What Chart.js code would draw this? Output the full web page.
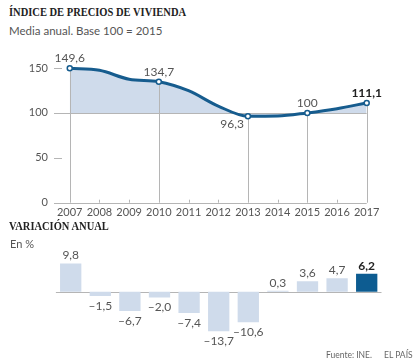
<!DOCTYPE html>
<html>
<head>
<meta charset="utf-8">
<script src="https://cdn.jsdelivr.net/npm/chart.js@4"></script>
<style>
  body { margin: 0; background: #fff; }
  #wrap { position: relative; width: 414px; height: 364px; overflow: hidden; font-family: Lato, sans-serif; }
  canvas { position: absolute; left: 0; }
  .title { position: absolute; font-family: "Liberation Serif", serif; font-weight: bold; font-size: 12.8px; color: #222; transform-origin: 0 0; transform: scaleX(0.82); white-space: nowrap; line-height: 1; }
  .sub { position: absolute; font-size: 11.5px; color: #555; white-space: nowrap; line-height: 1; }
  .foot { position: absolute; font-size: 8.5px; color: #666; white-space: nowrap; line-height: 1; }
</style>
</head>
<body>
<div id="wrap">
  <div class="title" style="left:9px; top:6px;">ÍNDICE DE PRECIOS DE VIVIENDA</div>
  <div class="sub" style="left:9px; top:25px;">Media anual. Base 100 = 2015</div>
  <canvas id="index-chart" width="414" height="220" style="top:0"></canvas>
  <div class="title" style="left:9px; top:220px;">VARIACIÓN ANUAL</div>
  <div class="sub" style="left:10px; top:238px; font-size:11px;">En %</div>
  <canvas id="change-chart" width="414" height="124" style="top:240px"></canvas>
  <div class="foot" style="left:326px; top:351px;">Fuente: INE.</div>
  <div class="foot" style="left:384px; top:351px;">EL PAÍS</div>
</div>
<script>
const years = [2007, 2008, 2009, 2010, 2011, 2012, 2013, 2014, 2015, 2016, 2017];
const indexValues = [149.6, 147.4, 137.5, 134.7, 124.7, 107.6, 96.3, 96.5, 100, 104.7, 111.1];
const annualChange = [9.8, -1.5, -6.7, -2.0, -7.4, -13.7, -10.6, 0.3, 3.6, 4.7, 6.2];
const labeledYears = [2007, 2010, 2013, 2015, 2017];
const yTicks = [0, 50, 100, 150];

const DARK = "#165c8e";
const LIGHT = "#cfdbeb";
const GREY_TXT = "#555";
const fmt = (v, digits) => v.toLocaleString("es-ES", { minimumFractionDigits: digits, maximumFractionDigits: 1 }).replace("-", "–");

// Lines, marks and labels for the index chart
const indexDecor = {
  id: "indexDecor",
  beforeDatasetDraw(chart) {
    const { ctx, chartArea, scales: { x, y } } = chart;
    ctx.save();
    ctx.strokeStyle = "#b5b5b5";
    ctx.lineWidth = 1;
    // horizontal: baseline and 100
    [0, 100].forEach(v => {
      const py = Math.round(y.getPixelForValue(v)) + 0.5;
      ctx.beginPath();
      ctx.moveTo(chartArea.left, py);
      ctx.lineTo(x.getPixelForValue(2017), py);
      ctx.stroke();
    });
    // short marks for 50 and 150
    [50, 150].forEach(v => {
      const py = Math.round(y.getPixelForValue(v)) + 0.5;
      ctx.beginPath();
      ctx.moveTo(chartArea.left, py);
      ctx.lineTo(chartArea.left + 8, py);
      ctx.stroke();
    });
    // verticals from labeled points down to 0
    labeledYears.forEach(yr => {
      const px = Math.round(x.getPixelForValue(yr)) + 0.5;
      const v = indexValues[years.indexOf(yr)];
      ctx.beginPath();
      ctx.moveTo(px, y.getPixelForValue(v));
      ctx.lineTo(px, y.getPixelForValue(0));
      ctx.stroke();
    });
    // small tick marks for other years
    years.filter(yr => !labeledYears.includes(yr)).forEach(yr => {
      const px = Math.round(x.getPixelForValue(yr)) + 0.5;
      const py = y.getPixelForValue(0);
      ctx.beginPath();
      ctx.moveTo(px, py);
      ctx.lineTo(px, py - 3);
      ctx.stroke();
    });
    ctx.restore();
  },
  afterDatasetsDraw(chart) {
    const { ctx, scales: { x, y } } = chart;
    ctx.save();
    ctx.textBaseline = "alphabetic";
    labeledYears.forEach(yr => {
      const v = indexValues[years.indexOf(yr)];
      const px = x.getPixelForValue(yr);
      const py = y.getPixelForValue(v);
      const last = yr === 2017;
      ctx.font = (last ? "bold " : "") + "12px Lato";
      ctx.fillStyle = last ? "#222" : GREY_TXT;
      if (yr === 2013) {
        ctx.textAlign = "right";
        ctx.fillText(fmt(v, 0), px - 4, py + 12);
      } else {
        ctx.textAlign = "center";
        ctx.fillText(fmt(v, 0), px, py - 6);
      }
    });
    ctx.restore();
  }
};

new Chart(document.getElementById("index-chart"), {
  type: "line",
  data: {
    datasets: [{
      data: years.map((yr, i) => ({ x: yr, y: indexValues[i] })),
      borderColor: DARK,
      borderWidth: 3,
      backgroundColor: LIGHT,
      fill: { value: 100 },
      cubicInterpolationMode: "monotone",
      clip: false,
      pointRadius: years.map(yr => labeledYears.includes(yr) ? 2.5 : 0),
      pointBackgroundColor: "#fff",
      pointBorderColor: DARK,
      pointBorderWidth: 1.5
    }]
  },
  options: {
    responsive: false,
    animation: false,
    layout: { padding: { top: 59, right: 47.3, bottom: 0, left: 0 } },
    plugins: { legend: { display: false }, tooltip: { enabled: false } },
    scales: {
      x: {
        type: "linear",
        min: 2006.47,
        max: 2017,
        grid: { display: false, drawTicks: false },
        border: { display: false },
        afterFit: (s) => { s.height = 17.3; },
        afterBuildTicks: (s) => { s.ticks = years.map(v => ({ value: v })); },
        ticks: { color: GREY_TXT, font: { family: "Lato", size: 11 }, padding: 3, maxRotation: 0, autoSkip: false, callback: (v) => String(v) }
      },
      y: {
        min: 0,
        max: 160,
        grid: { display: false, drawTicks: false },
        border: { display: false },
        afterFit: (s) => { s.width = 54; },
        afterBuildTicks: (s) => { s.ticks = yTicks.map(v => ({ value: v })); },
        ticks: { color: GREY_TXT, font: { family: "Lato", size: 11 }, padding: 6 }
      }
    }
  },
  plugins: [indexDecor]
});

// Zero line and value labels for the variation chart
const changeDecor = {
  id: "changeDecor",
  beforeDatasetsDraw(chart) {
    const { ctx, chartArea, scales: { y } } = chart;
    const py = Math.round(y.getPixelForValue(0)) + 0.5;
    ctx.save();
    ctx.strokeStyle = "#b5b5b5";
    ctx.lineWidth = 1;
    ctx.beginPath();
    ctx.moveTo(chartArea.left, py);
    ctx.lineTo(chartArea.right, py);
    ctx.stroke();
    ctx.restore();
  },
  afterDatasetsDraw(chart) {
    const { ctx } = chart;
    const meta = chart.getDatasetMeta(0);
    ctx.save();
    ctx.textAlign = "center";
    meta.data.forEach((bar, i) => {
      const v = annualChange[i];
      const last = i === annualChange.length - 1;
      ctx.font = (last ? "bold " : "") + "12px Lato";
      ctx.fillStyle = last ? "#222" : GREY_TXT;
      if (v >= 0) {
        ctx.textBaseline = "alphabetic";
        ctx.fillText(fmt(v, 1), bar.x, bar.y - 4);
      } else {
        ctx.textBaseline = "top";
        ctx.fillText(fmt(v, 1), bar.x, bar.y + 4);
      }
    });
    ctx.restore();
  }
};

new Chart(document.getElementById("change-chart"), {
  type: "bar",
  data: {
    labels: years.map(String),
    datasets: [{
      data: annualChange,
      backgroundColor: annualChange.map((v, i) => i === annualChange.length - 1 ? "#0d5c91" : LIGHT),
      barPercentage: 0.72,
      categoryPercentage: 1
    }]
  },
  options: {
    responsive: false,
    animation: false,
    layout: { padding: { top: 17.1, right: 32.5, bottom: 26.2, left: 55.9 } },
    plugins: { legend: { display: false }, tooltip: { enabled: false } },
    scales: {
      x: { display: false, offset: true },
      y: { display: false, min: -16, max: 12 }
    }
  },
  plugins: [changeDecor]
});
</script>
</body>
</html>
